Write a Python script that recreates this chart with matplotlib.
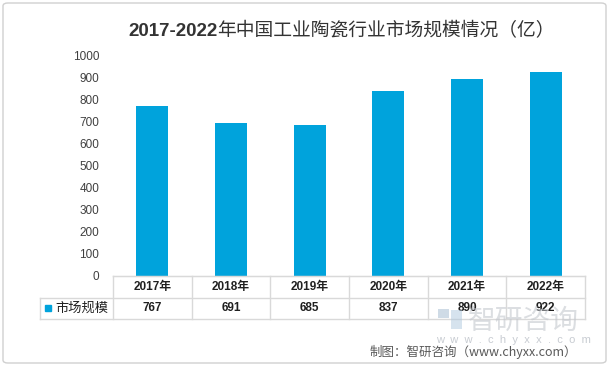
import matplotlib.pyplot as plt
from matplotlib.patches import FancyBboxPatch, Rectangle

years = ['2017年', '2018年', '2019年', '2020年', '2021年', '2022年']
values = [767, 691, 685, 837, 890, 922]
series_name = '市场规模'
yticks = [0, 100, 200, 300, 400, 500, 600, 700, 800, 900, 1000]

W, H = 609, 366
bar_color = '#00A3DC'
grid_color = '#D9D9D9'
cjk = ['Noto Sans CJK SC', 'DejaVu Sans']
num = ['Liberation Sans', 'Noto Sans CJK SC']


def px(left, top, right, bottom):
    return [left / W, 1 - bottom / H, (right - left) / W, (bottom - top) / H]


def main():
    plt.rcParams['font.family'] = num
    fig = plt.figure(figsize=(W / 100, H / 100), dpi=100)

    # outer frame
    fig.patches.append(FancyBboxPatch((3 / W, 3 / H), 1 - 6 / W, 1 - 6 / H,
                                      boxstyle='round,pad=0,rounding_size=0.008',
                                      transform=fig.transFigure, fill=False,
                                      ec='#D0D0D0', lw=1))

    ax_l, ax_r, ax_t, ax_b = 113, 585, 55, 276
    ax = fig.add_axes(px(ax_l, ax_t, ax_r, ax_b))
    x = list(range(len(values)))
    ax.bar(x, values, width=0.41, color=bar_color, zorder=2)
    ax.set_xlim(-0.5, len(values) - 0.5)
    ax.set_ylim(0, 1000)
    ax.set_yticks(yticks)
    ax.set_yticklabels([str(t) for t in yticks], fontsize=8.5, color='#404040')
    ax.tick_params(axis='y', length=0, pad=10)
    ax.set_xticks([])
    for s in ['top', 'right', 'left']:
        ax.spines[s].set_visible(False)
    ax.spines['bottom'].set_color(grid_color)

    # data table under the axis
    tb_l, tb_b = 40, 319
    unit = (ax_r - ax_l) / len(values)
    x0 = -0.5 - (ax_l - tb_l) / unit
    tab = fig.add_axes(px(tb_l, ax_b, ax_r, tb_b))
    tab.set_xlim(x0, len(values) - 0.5)
    tab.set_ylim(0, 2)
    tab.axis('off')
    lk = dict(color=grid_color, lw=1, clip_on=False)
    for i in range(len(values) + 1):
        tab.plot([i - 0.5, i - 0.5], [0, 2], **lk)
    tab.plot([x0, x0], [0, 1], **lk)
    tab.plot([-0.5, len(values) - 0.5], [2, 2], **lk)
    tab.plot([x0, len(values) - 0.5], [1, 1], **lk)
    tab.plot([x0, len(values) - 0.5], [0, 0], **lk)
    for i, (yr, v) in enumerate(zip(years, values)):
        tab.text(i, 1.5, yr, ha='center', va='center', fontsize=8.5,
                 fontweight='bold', family=num, color='#202020')
        tab.text(i, 0.5, str(v), ha='center', va='center', fontsize=8.5,
                 fontweight='bold', family=num, color='#202020')
    tab.add_patch(Rectangle((x0 + 0.065, 0.37), 0.08, 0.27, color=bar_color,
                            clip_on=False))
    tab.text(x0 + 0.19, 0.5, series_name, ha='left', va='center', fontsize=9.5,
             family=cjk, color='#202020')

    # title: bold digits + regular Chinese
    t1 = fig.text(128 / W, 1 - 31 / H, '2017-2022', fontsize=13.5,
                  fontweight='bold', family=num, color='#333333', va='center')
    fig.canvas.draw()
    bb = t1.get_window_extent()
    fig.text(bb.x1 / W, 1 - 31 / H, '年中国工业陶瓷行业市场规模情况（亿）',
             fontsize=13.5, family=cjk, color='#333333', va='center')

    # watermark
    fig.text(468 / W, 1 - 321 / H, '智研咨询', fontsize=20, family=cjk,
             color='#C4C8CE', alpha=0.6, va='center')
    fig.patches.append(Rectangle((438 / W, 1 - 318 / H), 11 / W, 9 / H,
                                 transform=fig.transFigure,
                                 color='#AFC3D6', alpha=0.6, lw=0))
    fig.patches.append(Rectangle((451 / W, 1 - 329 / H), 11 / W, 19 / H,
                                 transform=fig.transFigure,
                                 color='#AFC8DE', alpha=0.5, lw=0))
    fig.text(513 / W, 1 - 340 / H, 'w  w  w  .  c  h  y  x  x  .  c  o  m',
             fontsize=8, family=num, color='#C8CCD2', va='center', ha='center')
    fig.text(577 / W, 1 - 352 / H, '制图：智研咨询（www.chyxx.com）', fontsize=9,
             family=cjk, color='#595959', va='center', ha='right')

    fig.savefig('out.png', dpi=100)
    plt.close()


if __name__ == "__main__":
    main()
